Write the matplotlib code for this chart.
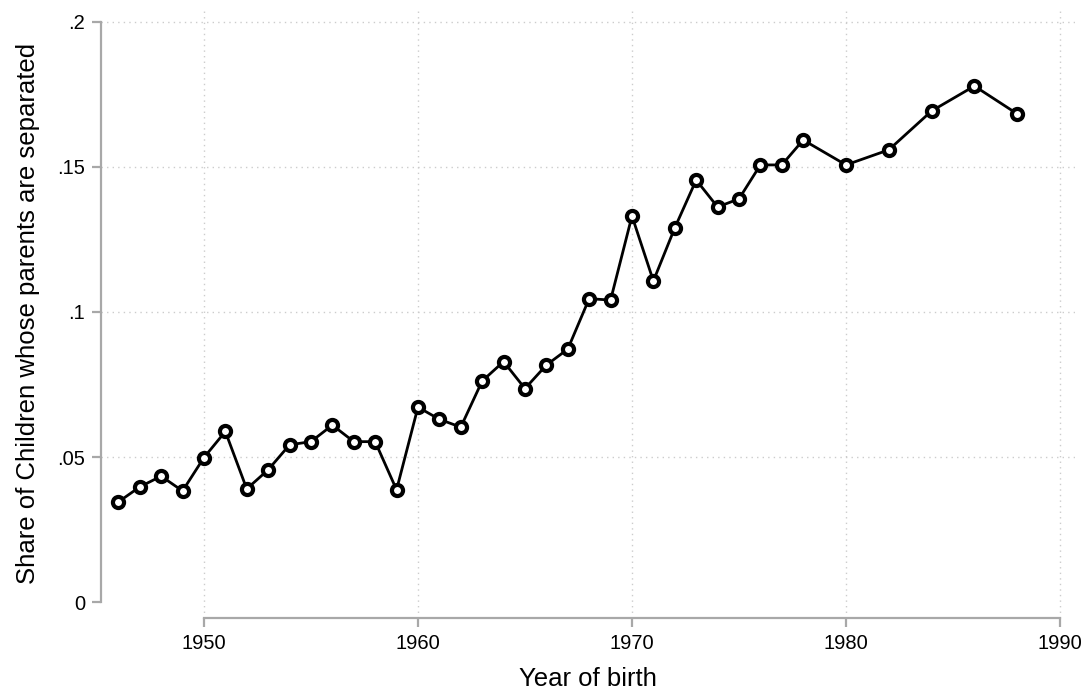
import matplotlib.pyplot as plt
import numpy as np

plt.rcParams['font.family'] = ['Liberation Sans', 'DejaVu Sans']

years = [1946, 1947, 1948, 1949, 1950, 1951, 1952, 1953, 1954, 1955, 1956, 1957,
         1958, 1959, 1960, 1961, 1962, 1963, 1964, 1965, 1966, 1967, 1968, 1969,
         1970, 1971, 1972, 1973, 1974, 1975, 1976, 1977, 1978, 1980, 1982, 1984,
         1986, 1988]
share = [0.0345, 0.0397, 0.0434, 0.0383, 0.0498, 0.0588, 0.0390, 0.0456, 0.0542, 0.0553,
         0.0610, 0.0553, 0.0553, 0.0387, 0.0672, 0.0630, 0.0603, 0.0762, 0.0829, 0.0736,
         0.0817, 0.0872, 0.1046, 0.1041, 0.1331, 0.1107, 0.1290, 0.1455, 0.1362, 0.1390,
         0.1507, 0.1507, 0.1593, 0.1507, 0.1559, 0.1693, 0.1779, 0.1683]

xticks = [1950, 1960, 1970, 1980, 1990]
yticks = [0, 0.05, 0.1, 0.15, 0.2]
ytick_labels = ['0', '.05', '.1', '.15', '.2']

AXCOLOR = '#a8a8a8'
GRIDCOLOR = '#cccccc'

fig = plt.figure(figsize=(10.89, 6.94), dpi=100)
ax = fig.add_axes([101 / 1089, (694 - 618) / 694, (1075 - 101) / 1089, (618 - 8) / 694])

ax.plot(years, share, color='black', linewidth=2.0, marker='o', markersize=8,
        markerfacecolor='white', markeredgecolor='black', markeredgewidth=3.0, zorder=3)

ax.set_xlim(1945.19, 1990.7)
ax.set_ylim(-0.0055, 0.2048)

ax.set_xticks(xticks)
ax.set_yticks(yticks)
ax.set_yticklabels(ytick_labels)

for x in xticks:
    ax.axvline(x, color=GRIDCOLOR, linestyle=(0, (1, 3)), linewidth=1, zorder=1)
for y in yticks[1:]:
    ax.axhline(y, color=GRIDCOLOR, linestyle=(0, (1, 3)), linewidth=1, zorder=1)

for side in ['top', 'right']:
    ax.spines[side].set_visible(False)
ax.spines['left'].set_bounds(0, 0.2)
ax.spines['bottom'].set_bounds(1950, 1990)
for side in ['left', 'bottom']:
    ax.spines[side].set_color(AXCOLOR)
    ax.spines[side].set_linewidth(1.6)

ax.tick_params(axis='both', colors=AXCOLOR, length=6.5, width=1.6, labelsize=14.5,
               labelcolor='black', pad=5)

ax.set_xlabel('Year of birth', fontsize=18.5, labelpad=10)
ax.set_ylabel('Share of Children whose parents are separated', fontsize=18.5, labelpad=12)

fig.savefig('out.png', dpi=100)
